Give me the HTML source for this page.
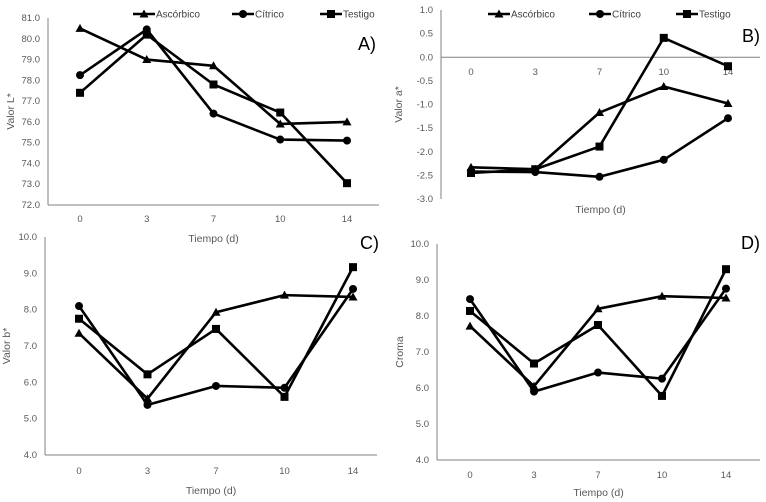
<!DOCTYPE html>
<html><head><meta charset="utf-8"><style>
body{margin:0;background:#fff;}
svg{display:block;font-family:"Liberation Sans",sans-serif;}
.tick{font-size:9.5px;fill:#595959;}
.tt{font-size:10.5px;fill:#595959;}
.lg{font-size:10px;fill:#404040;}
.pl{font-size:18px;fill:#000;}
</style></head><body>
<svg id="c" width="766" height="502"></svg>
<script>
const categories=["0","3","7","10","14"];
const seriesNames=["Ascórbico","Cítrico","Testigo"];
const aAsc=[80.5,79.0,78.7,75.9,76.0];
const aCit=[78.25,80.45,76.4,75.15,75.1];
const aTes=[77.4,80.2,77.8,76.45,73.05];
const bAsc=[-2.33,-2.37,-1.17,-0.62,-0.98];
const bCit=[-2.42,-2.43,-2.53,-2.17,-1.29];
const bTes=[-2.45,-2.37,-1.89,0.41,-0.19];
const cAsc=[7.35,5.55,7.93,8.4,8.35];
const cCit=[8.1,5.38,5.9,5.85,8.57];
const cTes=[7.75,6.22,7.47,5.6,9.17];
const dAsc=[7.72,6.05,8.2,8.55,8.5];
const dCit=[8.47,5.9,6.43,6.26,8.76];
const dTes=[8.14,6.68,7.75,5.78,9.3];
const ticksA=["72.0","73.0","74.0","75.0","76.0","77.0","78.0","79.0","80.0","81.0"];
const ticksB=["-3.0","-2.5","-2.0","-1.5","-1.0","-0.5","0.0","0.5","1.0"];
const ticksCD=["4.0","5.0","6.0","7.0","8.0","9.0","10.0"];
const NS="http://www.w3.org/2000/svg";
const svg=document.getElementById('c');
function mk(tag,attrs,parent){const e=document.createElementNS(NS,tag);for(const k in attrs)e.setAttribute(k,attrs[k]);(parent||svg).appendChild(e);return e;}
function marker(g,type,x,y){
 if(type==0)return mk('polygon',{points:`${x},${y-4.5} ${x-4.5},${y+3.5} ${x+4.5},${y+3.5}`,fill:'#000'},g);
 if(type==1)return mk('circle',{cx:x,cy:y,r:4,fill:'#000'},g);
 return mk('rect',{x:x-4,y:y-4,width:8,height:8,fill:'#000'},g);
}
function panel(o){
 const g=mk('g',{});
 
 
 const y=v=>o.yTop+(o.max-v)/(o.max-o.min)*(o.yBot-o.yTop);
 const x=i=>o.x0+i*(o.x1-o.x0)/4;
 mk('line',{x1:o.ax,y1:o.yTop,x2:o.ax,y2:o.yBot,stroke:'#808080','stroke-width':1},g);
 const xa=mk('line',{x1:o.ax,y1:y(o.axisAt),x2:o.right,y2:y(o.axisAt),stroke:'#808080','stroke-width':1},g);
 
 o.ticks.forEach(t=>{const e=mk('text',{x:o.ax-8,y:y(parseFloat(t))+3,'text-anchor':'end',class:'tick'},g);e.textContent=t;});
 categories.forEach((c,i)=>{const e=mk('text',{x:x(i),y:o.catY,'text-anchor':'middle',class:'tick'},g);e.textContent=c;});
 const tt=mk('text',{x:(o.ax+o.right)/2,y:o.titleY,'text-anchor':'middle',class:'tt'},g);tt.textContent='Tiempo (d)';
 
 const yt=mk('text',{x:0,y:0,'text-anchor':'middle',class:'tt',transform:`translate(${o.ytX},${(o.yTop+o.yBot)/2}) rotate(-90)`},g);yt.textContent=o.ytitle;
 
 o.series.forEach((s,si)=>{
  const pts=s.map((v,i)=>x(i)+','+y(v)).join(' ');
  const pl=mk('polyline',{points:pts,fill:'none',stroke:'#000','stroke-width':2.6,'stroke-linejoin':'round'},g);
  
  s.forEach((v,i)=>marker(g,si,x(i),y(v)));
 });
 const pt=mk('text',{x:o.plx,y:o.ply,class:'pl'},g);pt.textContent=o.label;
 if(o.legend){o.legend.forEach((lx,si)=>{
  const lg=mk('g',{},g);
  
  
  mk('line',{x1:lx,y1:14,x2:lx+22,y2:14,stroke:'#000','stroke-width':2.6},lg);
  marker(lg,si,lx+11,14);
  const t=mk('text',{x:lx+23,y:17.5,class:'lg'},lg);t.textContent=seriesNames[si];
 });}
}
panel({name:'panel-a',x0:80,x1:347,ax:48,right:379,yTop:18,yBot:205,min:72,max:81,axisAt:72,ticks:ticksA,catY:222,titleY:242,ytX:14,ytitle:'Valor L*',series:[aAsc,aCit,aTes],label:'A)',plx:358,ply:50,legend:[133,232,320]});
panel({name:'panel-b',x0:471,x1:728,ax:441,right:760,yTop:10,yBot:199,min:-3,max:1,axisAt:0,ticks:ticksB,catY:75,titleY:213,ytX:402,ytitle:'Valor a*',series:[bAsc,bCit,bTes],label:'B)',plx:742,ply:42,legend:[488,589,676]});
panel({name:'panel-c',x0:79,x1:353,ax:45,right:377,yTop:237,yBot:455,min:4,max:10,axisAt:4,ticks:ticksCD,catY:474,titleY:494,ytX:10,ytitle:'Valor b*',series:[cAsc,cCit,cTes],label:'C)',plx:360,ply:249,legend:null});
panel({name:'panel-d',x0:470,x1:726,ax:437,right:760,yTop:244,yBot:460,min:4,max:10,axisAt:4,ticks:ticksCD,catY:478,titleY:496,ytX:403,ytitle:'Croma',series:[dAsc,dCit,dTes],label:'D)',plx:741,ply:249,legend:null});
</script>
</body></html>
